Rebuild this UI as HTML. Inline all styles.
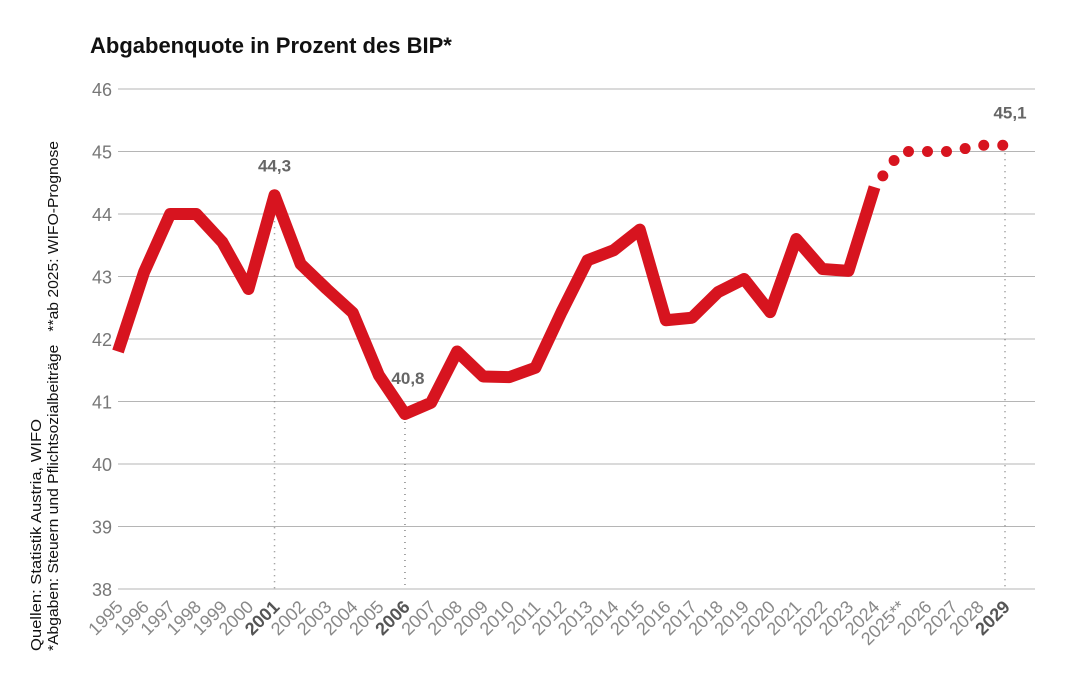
<!DOCTYPE html>
<html><head><meta charset="utf-8"><style>
body{margin:0;background:#fff;}
svg{display:block;font-family:"Liberation Sans",sans-serif;}
</style></head><body>
<svg id="chart" width="1069" height="687" viewBox="0 0 1069 687">
<text x="90" y="53" font-size="22" font-weight="bold" fill="#111">Abgabenquote in Prozent des BIP*</text>
<text transform="translate(41,651) rotate(-90)" font-size="15" fill="#111" textLength="232" lengthAdjust="spacingAndGlyphs">Quellen: Statistik Austria, WIFO</text>
<text transform="translate(58,651) rotate(-90)" font-size="15" fill="#111" textLength="510" lengthAdjust="spacingAndGlyphs" xml:space="preserve">*Abgaben: Steuern und Pflichtsozialbeiträge   **ab 2025: WIFO-Prognose</text>
<g id="grid"></g><g id="xlabels"></g><g id="marks"></g>
</svg>
<script>
const years=["1995","1996","1997","1998","1999","2000","2001","2002","2003","2004","2005","2006","2007","2008","2009","2010","2011","2012","2013","2014","2015","2016","2017","2018","2019","2020","2021","2022","2023","2024","2025**","2026","2027","2028","2029"];
const actual=[41.8,43.07,44.0,44.0,43.55,42.8,44.3,43.2,42.8,42.42,41.42,40.8,40.98,41.8,41.4,41.39,41.54,42.43,43.26,43.42,43.75,42.3,42.34,42.75,42.96,42.43,43.6,43.12,43.09,44.43];
const forecast=[44.43,45.0,45.0,45.0,45.1,45.1];
const yTicks=[38,39,40,41,42,43,44,45,46];
const boldYears=["2001","2006","2029"];
const annotations=[{i:6,v:44.3,t:"44,3"},{i:11,v:40.8,t:"40,8"},{i:34,v:45.1,t:"45,1"}];
const NS="http://www.w3.org/2000/svg";
const x=i=>118+i*(1005-118)/34;
const y=v=>589-(v-38)*62.5;
function mk(tag,attrs,parent){const e=document.createElementNS(NS,tag);for(const k in attrs)e.setAttribute(k,attrs[k]);document.getElementById(parent).appendChild(e);return e;}
yTicks.forEach(t=>{
  const l=mk('line',{x1:118,x2:1035,y1:y(t),y2:y(t),stroke:'#b5b5b5','stroke-width':1},'grid');
  
  
  const tx=mk('text',{x:112,y:y(t)+7,'text-anchor':'end','font-size':18,fill:'#777'},'grid');
  tx.textContent=t;
  
  
});
years.forEach((yr,i)=>{
  const b=boldYears.includes(yr);
  const t=mk('text',{transform:`translate(${x(i)+6},${608}) rotate(-45)`,'text-anchor':'end','font-size':18,fill:b?'#555':'#888','font-weight':b?'bold':'normal'},'xlabels');
  t.textContent=yr;
  
  
});
annotations.forEach(a=>{
  const l=mk('line',{x1:x(a.i),x2:x(a.i),y1:y(a.v)+8,y2:589,stroke:'#888','stroke-width':1.5,'stroke-dasharray':'1 5'},'marks');
  
  
  const t=mk('text',{x:x(a.i)+(a.i==34?5:(a.i==11?3:0)),y:y(a.v)-(a.i==34?27:(a.i==11?30:24)),'text-anchor':'middle','font-size':17,'font-weight':'bold',fill:'#666'},'marks');
  t.textContent=a.t;
  
  
});
const p=mk('polyline',{points:actual.map((v,i)=>x(i)+','+y(v)).join(' '),fill:'none',stroke:'#d7141f','stroke-width':12,'stroke-linejoin':'round'},'marks');


const off=actual.length-1;
const f=mk('polyline',{points:forecast.map((v,i)=>x(off+i)+','+y(v)).join(' '),fill:'none',stroke:'#d7141f','stroke-width':11,'stroke-linecap':'round','stroke-dasharray':'0 19','stroke-dashoffset':'-14'},'marks');


</script>
</body></html>
